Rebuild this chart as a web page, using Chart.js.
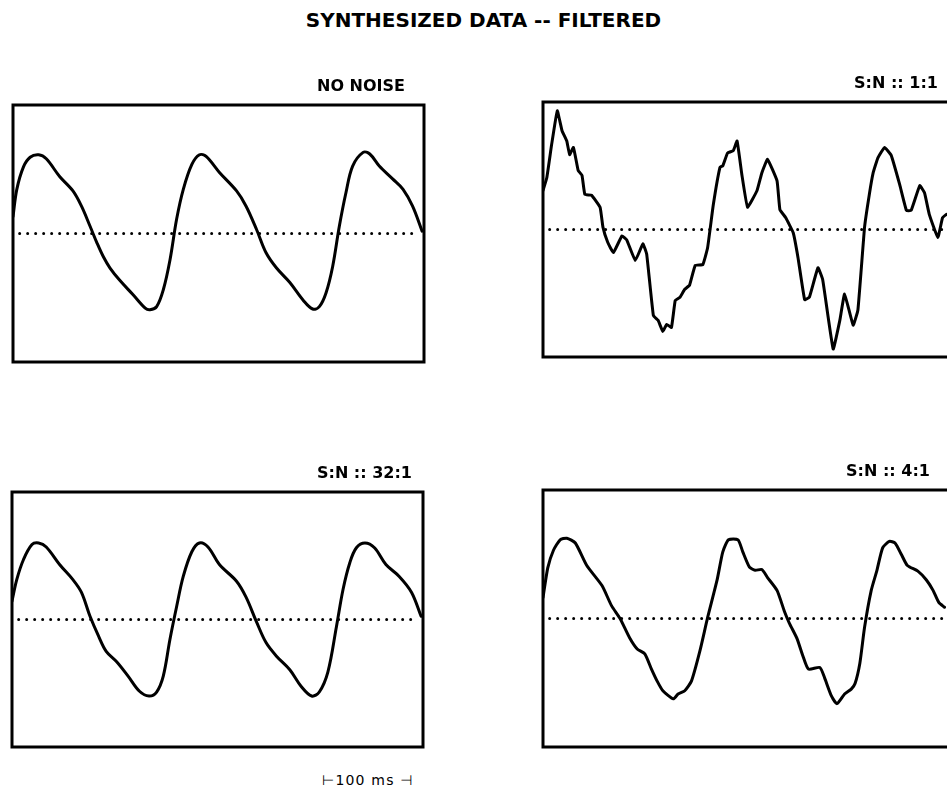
<!DOCTYPE html>
<html>
<head>
<meta charset="utf-8">
<title>Synthesized data - filtered</title>
<script src="https://cdn.jsdelivr.net/npm/chart.js@4.4.1/dist/chart.umd.min.js"></script>
<style>
    html, body { margin: 0; padding: 0; background: #fff; width: 947px; height: 794px; overflow: hidden; }
    .panel { position: absolute; }
    #mainTitle {
        position: absolute; left: 0; top: 10px; width: 967px; text-align: center;
        font: bold 20px "DejaVu Sans"; line-height: 20px; color: #000;
    }
    #scaleBar {
        position: absolute; left: 322px; top: 773px; white-space: pre;
        font: 14px "DejaVu Sans"; line-height: 14px; letter-spacing: 1.2px; color: #000;
    }
</style>
</head>
<body>
<div id="mainTitle">SYNTHESIZED DATA -- FILTERED</div>
<div class="panel" style="left:9px; top:75px;"><canvas id="noNoiseChart" width="419" height="291"></canvas></div>
<div class="panel" style="left:539px; top:72px;"><canvas id="snr1Chart" width="419" height="289"></canvas></div>
<div class="panel" style="left:8px; top:462px;"><canvas id="snr32Chart" width="419" height="289"></canvas></div>
<div class="panel" style="left:539px; top:460px;"><canvas id="snr4Chart" width="419" height="291"></canvas></div>
<div id="scaleBar">⊢100 ms ⊣</div>

<script>
// time in ms, amplitude relative to the zero line
const noNoiseT = [0, 4, 11, 18, 27, 35, 49, 63, 72, 81, 88, 95, 102, 112, 126, 139, 144, 151, 158, 165, 172, 179, 188, 196, 203, 217, 235, 245, 256, 266, 277, 291, 305, 315, 322, 329, 336, 343, 350, 357, 368, 375, 385, 399, 410, 420, 430];
const noNoiseV = [0.21, 0.55, 0.83, 0.95, 0.98, 0.93, 0.71, 0.53, 0.34, 0.09, -0.11, -0.29, -0.43, -0.58, -0.76, -0.93, -0.95, -0.91, -0.70, -0.33, 0.18, 0.55, 0.86, 0.98, 0.96, 0.76, 0.53, 0.34, 0.05, -0.24, -0.43, -0.61, -0.83, -0.94, -0.91, -0.74, -0.41, 0.09, 0.51, 0.84, 1.01, 0.99, 0.84, 0.68, 0.55, 0.34, 0.03];

const snr1T = [0, 4, 9, 15, 20, 25, 28, 32, 37, 41, 44, 51, 60, 63, 68, 74, 83, 88, 97, 105, 109, 116, 121, 126, 130, 135, 139, 144, 149, 154, 160, 168, 173, 179, 186, 189, 194, 200, 204, 209, 215, 225, 230, 236, 246, 249, 255, 263, 268, 275, 280, 289, 294, 305, 312, 317, 326, 331, 338, 343, 347, 352, 359, 366, 375, 382, 387, 396, 401, 406, 415, 420, 424];
const snr1V = [0.49, 0.65, 1.06, 1.49, 1.24, 1.11, 0.94, 1.03, 0.74, 0.68, 0.44, 0.43, 0.28, 0.03, -0.16, -0.29, -0.08, -0.13, -0.39, -0.18, -0.31, -1.08, -1.14, -1.28, -1.19, -1.23, -0.89, -0.85, -0.75, -0.70, -0.45, -0.44, -0.23, 0.31, 0.78, 0.80, 0.96, 0.99, 1.11, 0.69, 0.28, 0.49, 0.71, 0.88, 0.61, 0.25, 0.15, -0.04, -0.35, -0.88, -0.85, -0.48, -0.63, -1.50, -1.14, -0.81, -1.20, -1.01, 0.03, 0.44, 0.71, 0.90, 1.03, 0.93, 0.56, 0.24, 0.24, 0.55, 0.46, 0.19, -0.10, 0.15, 0.19];

const snr32T = [0, 5, 12, 21, 28, 36, 50, 64, 73, 82, 91, 99, 110, 122, 134, 144, 152, 159, 166, 173, 180, 189, 197, 206, 218, 236, 246, 257, 267, 278, 292, 304, 315, 323, 332, 341, 348, 355, 362, 371, 381, 393, 407, 420, 430];
const snr32V = [0.23, 0.50, 0.75, 0.94, 0.96, 0.91, 0.69, 0.50, 0.34, 0.04, -0.21, -0.40, -0.53, -0.71, -0.90, -0.96, -0.91, -0.71, -0.25, 0.16, 0.54, 0.85, 0.96, 0.91, 0.69, 0.48, 0.28, -0.03, -0.29, -0.46, -0.63, -0.84, -0.96, -0.91, -0.66, -0.09, 0.38, 0.71, 0.90, 0.96, 0.90, 0.69, 0.54, 0.34, 0.04];

const snr4T = [0, 5, 11, 18, 25, 34, 46, 62, 72, 81, 91, 99, 107, 114, 120, 126, 137, 142, 149, 156, 165, 173, 183, 189, 195, 205, 210, 217, 223, 230, 236, 246, 254, 259, 267, 273, 279, 291, 296, 303, 309, 317, 324, 328, 333, 338, 345, 351, 357, 364, 370, 377, 383, 394, 403, 410, 416, 422];
const snr4V = [0.26, 0.63, 0.85, 0.98, 1.00, 0.94, 0.66, 0.41, 0.16, 0, -0.24, -0.38, -0.44, -0.63, -0.78, -0.90, -1.00, -0.94, -0.90, -0.78, -0.40, 0.01, 0.48, 0.83, 0.98, 0.98, 0.83, 0.64, 0.60, 0.61, 0.51, 0.35, 0.08, -0.06, -0.25, -0.46, -0.63, -0.61, -0.74, -0.96, -1.06, -0.94, -0.88, -0.81, -0.56, -0.11, 0.35, 0.60, 0.88, 0.96, 0.94, 0.79, 0.66, 0.59, 0.48, 0.35, 0.20, 0.14];

// dotted zero line, start and end time
const zeroLineT = [7, 427];

// box around each trace plus its label above the top-right corner
const panelFrame = {
    id: 'panelFrame',
    afterDraw(chart, args, opts) {
        const { ctx, chartArea: a } = chart;
        ctx.save();
        ctx.lineWidth = 3;
        ctx.strokeStyle = '#000';
        ctx.strokeRect(a.left, a.top, a.right - a.left, a.bottom - a.top);
        ctx.font = 'bold 16px "DejaVu Sans"';
        ctx.fillStyle = '#000';
        ctx.textAlign = 'right';
        ctx.textBaseline = 'alphabetic';
        ctx.fillText(opts.label, a.right - opts.inset, a.top - 14);
        ctx.restore();
    }
};

function makePanel(canvasId, label, inset, times, values, tension) {
    const ctx = document.getElementById(canvasId).getContext('2d');
    return new Chart(ctx, {
        type: 'line',
        data: {
            datasets: [
                {
                    data: times.map((t, i) => ({ x: t, y: values[i] })),
                    borderColor: '#000',
                    borderWidth: 3,
                    pointRadius: 0,
                    tension: tension,
                    borderJoinStyle: 'round',
                    borderCapStyle: 'round'
                },
                {
                    data: zeroLineT.map(t => ({ x: t, y: 0 })),
                    borderColor: '#000',
                    borderWidth: 3,
                    borderDash: [0, 8],
                    borderCapStyle: 'round',
                    pointRadius: 0
                }
            ]
        },
        options: {
            responsive: false,
            animation: false,
            events: [],
            layout: { padding: { left: 4, right: 4, top: 30, bottom: 4 } },
            scales: {
                x: { type: 'linear', min: 0, max: 432, display: false },
                y: { min: -1.6, max: 1.6, display: false }
            },
            plugins: {
                legend: { display: false },
                tooltip: { enabled: false },
                panelFrame: { label: label, inset: inset }
            }
        },
        plugins: [panelFrame]
    });
}

makePanel('noNoiseChart', 'NO NOISE', 19, noNoiseT, noNoiseV, 0.35);
makePanel('snr1Chart', 'S:N :: 1:1', 16, snr1T, snr1V, 0.1);
makePanel('snr32Chart', 'S:N :: 32:1', 11, snr32T, snr32V, 0.35);
makePanel('snr4Chart', 'S:N :: 4:1', 24, snr4T, snr4V, 0.2);
</script>
</body>
</html>
